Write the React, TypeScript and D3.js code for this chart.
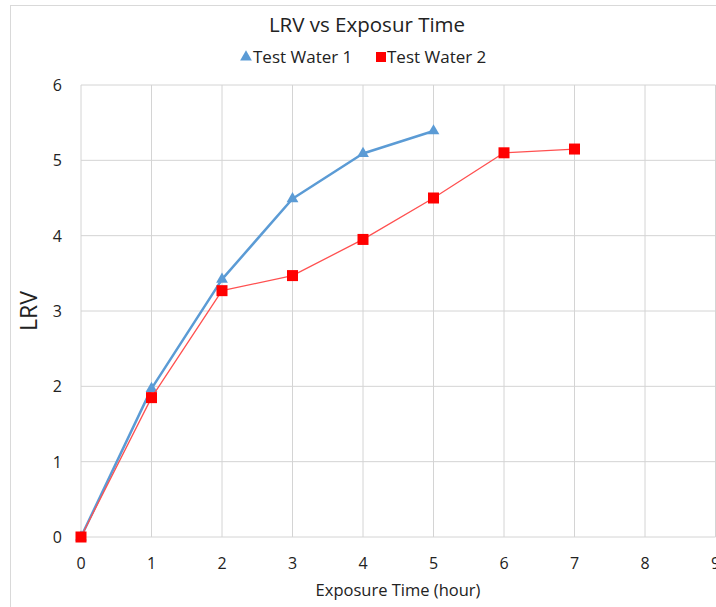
import React from "react";
import * as d3 from "d3";

const hours1 = [0, 1, 2, 3, 4, 5];
const lrv1 = [0, 1.97, 3.42, 4.49, 5.09, 5.39];
const hours2 = [0, 1, 2, 3, 4, 5, 6, 7];
const lrv2 = [0, 1.85, 3.27, 3.47, 3.95, 4.5, 5.1, 5.15];
const xTicks = [0, 1, 2, 3, 4, 5, 6, 7, 8, 9];
const yTicks = [0, 1, 2, 3, 4, 5, 6];

const W = 716, H = 607;
const FONT = "'Open Sans', 'Noto Sans', sans-serif";

export default function App() {
  const x = d3.scaleLinear().domain([0, 9]).range([81, 715.5]);
  const y = d3.scaleLinear().domain([0, 6]).range([537, 85]);
  const d1 = hours1.map((h, i) => [h, lrv1[i]] as [number, number]);
  const d2 = hours2.map((h, i) => [h, lrv2[i]] as [number, number]);
  const line = d3.line<[number, number]>().x(d => x(d[0])).y(d => y(d[1]));
  const tri = d3.symbol().type(d3.symbolTriangle).size(60)();
  const blue = "#5B9BD5";
  const red = "#FF0000";
  return (
    <svg width={W} height={H} style={{ position: "absolute", left: 0, top: 0, background: "#fff" }}>
      <rect x={10.5} y={5.5} width={720} height={620} fill="#fff" stroke="#d9d9d9" />
      {xTicks.map(t => (
        <line key={"gx" + t} x1={x(t)} x2={x(t)} y1={y(6)} y2={y(0)} stroke="#d4d4d4" strokeWidth={1} />
      ))}
      {yTicks.map(t => (
        <line key={"gy" + t} x1={x(0)} x2={x(9)} y1={y(t)} y2={y(t)} stroke="#d4d4d4" strokeWidth={1} />
      ))}
      {xTicks.map(t => (
        <text key={"tx" + t} x={x(t)} y={569} textAnchor="middle" fontFamily={FONT} fontSize={16} fill="#222">{t}</text>
      ))}
      {yTicks.map(t => (
        <text key={"ty" + t} x={62} y={y(t) + 6} textAnchor="end" fontFamily={FONT} fontSize={16} fill="#222">{t}</text>
      ))}
      <text x={398} y={596} textAnchor="middle" fontFamily={FONT} fontSize={16.5} fill="#222">Exposure Time (hour)</text>
      <text transform={`translate(37,${y(3)}) rotate(-90)`} textAnchor="middle" fontFamily={FONT} fontSize={23} fill="#222">LRV</text>
      <text x={367} y={32} textAnchor="middle" fontFamily={FONT} fontSize={20.5} fill="#222">LRV vs Exposur Time</text>
      <path d={tri} transform="translate(246,57)" fill={blue} />
      <text x={253} y={63} fontFamily={FONT} fontSize={17} fill="#222">Test Water 1</text>
      <rect x={376} y={52} width={10} height={10} fill={red} />
      <text x={387} y={63} fontFamily={FONT} fontSize={17} fill="#222">Test Water 2</text>
      <path d={line(d1) || ""} fill="none" stroke={blue} strokeWidth={2.5} strokeLinejoin="round" />
      {d1.map((d, i) => (
        <path key={"m1" + i} d={tri} transform={`translate(${x(d[0])},${y(d[1])})`} fill={blue} />
      ))}
      <path d={line(d2) || ""} fill="none" stroke="#ff5050" strokeWidth={1.3} strokeLinejoin="round" />
      {d2.map((d, i) => (
        <rect key={"m2" + i} x={x(d[0]) - 5.5} y={y(d[1]) - 5.5} width={11} height={11} fill={red} />
      ))}
    </svg>
  );
}
